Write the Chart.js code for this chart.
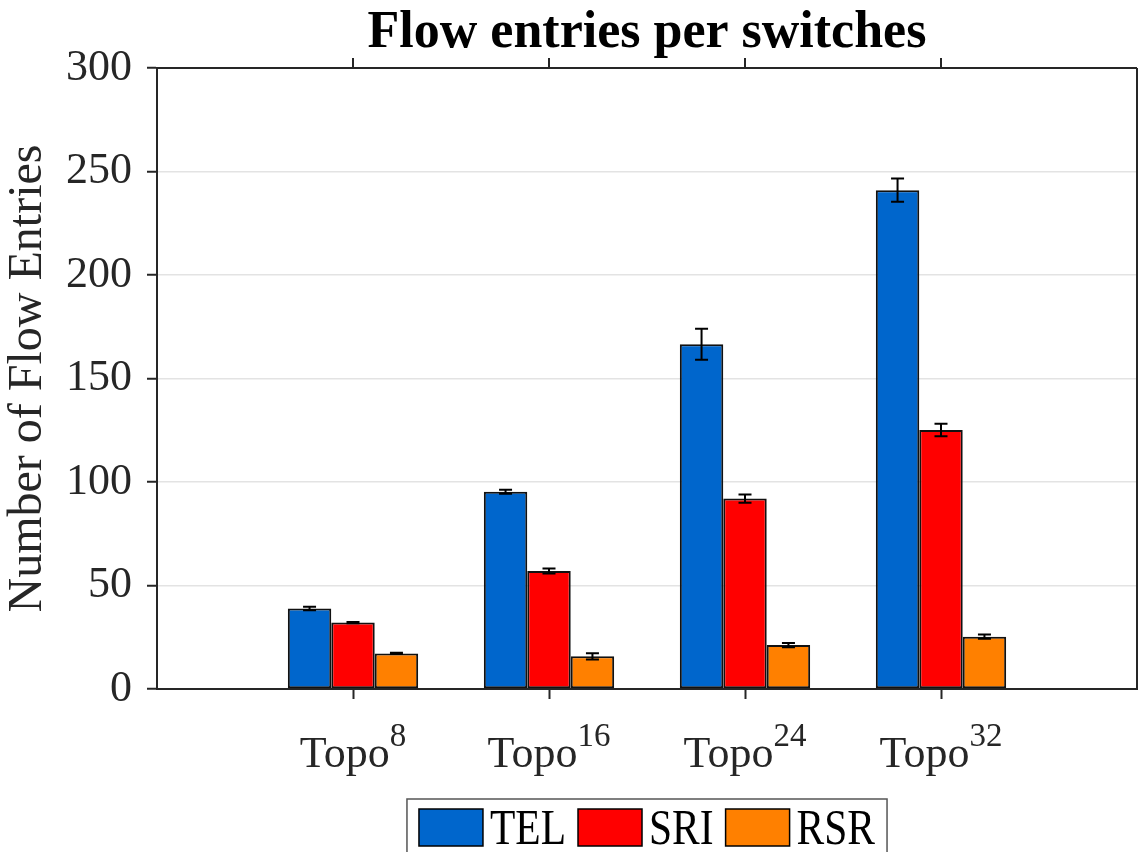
<!DOCTYPE html>
<html>
<head>
<meta charset="utf-8">
<title>Flow entries per switches</title>
<script src="https://cdn.jsdelivr.net/npm/chart.js@4.4.1/dist/chart.umd.min.js"></script>
<style>
    html, body { margin: 0; padding: 0; background: #fff; }
    #wrap { width: 1138px; height: 852px; }
</style>
</head>
<body>
<div id="wrap"><canvas id="flowChart" width="1138" height="852"></canvas></div>
<script>
// Chart data
const chartTitle = 'Flow entries per switches';
const topoSizes = ['8', '16', '24', '32'];
const topoPositions = [1, 2, 3, 4];
const seriesNames = ['TEL', 'SRI', 'RSR'];
const telValues = [38.9, 95.3, 166.5, 241.0];
const telErrors = [0.8, 1.0, 7.5, 5.6];
const sriValues = [32.1, 57.0, 92.0, 125.1];
const sriErrors = [0.3, 1.2, 2.0, 3.0];
const rsrValues = [17.2, 15.8, 21.2, 25.3];
const rsrErrors = [0.3, 1.5, 1.0, 1.0];
const yTicks = [0, 50, 100, 150, 200, 250, 300];

const FONT = "'Liberation Serif', 'Times New Roman', serif";
const AXIS_COLOR = '#262626';
const seriesColors = ['#0066CC', '#FF0000', '#FF8000'];

function toPoints(values) {
    return values.map((v, i) => ({ x: topoPositions[i], y: v }));
}

/**
 * Title centred over the plot area
 */
const plotTitlePlugin = {
    id: 'plotTitle',
    afterDraw(chart) {
        const { ctx, chartArea } = chart;
        ctx.save();
        ctx.font = 'bold 52px ' + FONT;
        ctx.fillStyle = '#000';
        ctx.textAlign = 'center';
        ctx.textBaseline = 'alphabetic';
        ctx.fillText(chartTitle, (chartArea.left + chartArea.right) / 2, chartArea.top - 21);
        ctx.restore();
    }
};

/**
 * Axis box: top border, right border and mirrored ticks on top
 */
const axisBoxPlugin = {
    id: 'axisBox',
    afterDraw(chart) {
        const { ctx, chartArea } = chart;
        const xScale = chart.scales.x;
        ctx.save();
        ctx.strokeStyle = AXIS_COLOR;
        ctx.lineWidth = 2;
        ctx.beginPath();
        ctx.moveTo(chartArea.left, chartArea.top);
        ctx.lineTo(chartArea.right, chartArea.top);
        ctx.moveTo(chartArea.right, chartArea.top);
        ctx.lineTo(chartArea.right, chartArea.bottom);
        topoPositions.forEach(p => {
            const px = Math.round(xScale.getPixelForValue(p));
            ctx.moveTo(px, chartArea.top);
            ctx.lineTo(px, chartArea.top - 10);
        });
        ctx.stroke();
        ctx.restore();
    }
};

/**
 * Error bars drawn over each bar
 */
const errorBarPlugin = {
    id: 'errorBars',
    afterDatasetsDraw(chart) {
        const { ctx } = chart;
        const yScale = chart.scales.y;
        ctx.save();
        ctx.strokeStyle = '#000';
        ctx.lineWidth = 2;
        chart.data.datasets.forEach((ds, di) => {
            const meta = chart.getDatasetMeta(di);
            meta.data.forEach((bar, i) => {
                const v = ds.data[i].y;
                const e = ds.errors[i];
                const yTop = yScale.getPixelForValue(v + e);
                const yBot = yScale.getPixelForValue(v - e);
                const cap = 6.5;
                ctx.beginPath();
                ctx.moveTo(bar.x, yTop);
                ctx.lineTo(bar.x, yBot);
                ctx.moveTo(bar.x - cap, yTop);
                ctx.lineTo(bar.x + cap, yTop);
                ctx.moveTo(bar.x - cap, yBot);
                ctx.lineTo(bar.x + cap, yBot);
                ctx.stroke();
            });
        });
        ctx.restore();
    }
};

/**
 * Category labels with superscript sizes
 */
const topoLabelPlugin = {
    id: 'topoLabels',
    afterDraw(chart) {
        const { ctx } = chart;
        const xScale = chart.scales.x;
        const baseY = xScale.top + 78;
        ctx.save();
        ctx.fillStyle = AXIS_COLOR;
        ctx.textBaseline = 'alphabetic';
        ctx.textAlign = 'left';
        topoSizes.forEach((sz, i) => {
            const cx = xScale.getPixelForValue(topoPositions[i]);
            ctx.font = '44px ' + FONT;
            const wMain = ctx.measureText('Topo').width;
            ctx.font = '33px ' + FONT;
            const wSup = ctx.measureText(sz).width;
            const x0 = cx - (wMain + wSup) / 2;
            ctx.font = '44px ' + FONT;
            ctx.fillText('Topo', x0, baseY);
            ctx.font = '33px ' + FONT;
            ctx.fillText(sz, x0 + wMain, baseY - 21);
        });
        ctx.restore();
    }
};

/**
 * Boxed legend under the x axis
 */
const boxLegendPlugin = {
    id: 'boxLegend',
    afterDraw(chart) {
        const { ctx } = chart;
        const xScale = chart.scales.x;
        const top = xScale.top + 110;
        const boxW = 64, boxH = 37, textGap = 7, itemGap = 12, margin = 12;
        const squeeze = 0.83;
        ctx.save();
        ctx.font = '50px ' + FONT;
        const widths = seriesNames.map(n => ctx.measureText(n).width * squeeze);
        const total = margin * 2 + widths.reduce((a, w) => a + boxW + textGap + w, 0) + itemGap * (seriesNames.length - 1);
        const left = (chart.chartArea.left + chart.chartArea.right) / 2 - total / 2;

        ctx.strokeStyle = '#555';
        ctx.lineWidth = 1.5;
        ctx.strokeRect(left, top, total, 80);

        let x = left + margin;
        seriesNames.forEach((name, i) => {
            ctx.fillStyle = seriesColors[i];
            ctx.fillRect(x, top + 10, boxW, boxH);
            ctx.strokeStyle = '#000';
            ctx.lineWidth = 1.5;
            ctx.strokeRect(x, top + 10, boxW, boxH);
            x += boxW + textGap;
            ctx.save();
            ctx.translate(x, top + 45);
            ctx.scale(squeeze, 1);
            ctx.fillStyle = '#000';
            ctx.textBaseline = 'alphabetic';
            ctx.fillText(name, 0, 0);
            ctx.restore();
            x += widths[i] + itemGap;
        });
        ctx.restore();
    }
};

const seriesValues = [telValues, sriValues, rsrValues];
const seriesErrors = [telErrors, sriErrors, rsrErrors];

new Chart(document.getElementById('flowChart').getContext('2d'), {
    type: 'bar',
    data: {
        datasets: seriesNames.map((name, i) => ({
            label: name,
            data: toPoints(seriesValues[i]),
            errors: seriesErrors[i],
            backgroundColor: seriesColors[i],
            borderColor: '#111',
            borderWidth: 2,
            borderSkipped: false,
            categoryPercentage: 0.665,
            barPercentage: 1.0
        }))
    },
    options: {
        responsive: false,
        animation: false,
        layout: { padding: { top: 68, right: 1, bottom: 0, left: 0 } },
        plugins: {
            legend: { display: false },
            tooltip: { enabled: false },
            title: { display: false }
        },
        scales: {
            x: {
                type: 'linear',
                min: 0,
                max: 5,
                offset: false,
                afterBuildTicks: scale => {
                    scale.ticks = topoPositions.map(v => ({ value: v }));
                },
                afterFit: scale => { scale.height = 163; },
                ticks: { callback: () => '' },
                grid: {
                    offset: false,
                    drawOnChartArea: false,
                    drawTicks: true,
                    tickLength: 10,
                    tickColor: AXIS_COLOR,
                    tickWidth: 2
                },
                border: { color: AXIS_COLOR, width: 2 }
            },
            y: {
                min: 0,
                max: 300,
                afterBuildTicks: scale => {
                    scale.ticks = yTicks.map(v => ({ value: v }));
                },
                afterFit: scale => { scale.width = 157; },
                ticks: {
                    color: AXIS_COLOR,
                    font: { family: FONT, size: 44 },
                    padding: 15
                },
                grid: {
                    color: '#e3e3e3',
                    lineWidth: 1.5,
                    drawTicks: true,
                    tickLength: 10,
                    tickColor: AXIS_COLOR,
                    tickWidth: 2
                },
                border: { color: AXIS_COLOR, width: 2 },
                title: {
                    display: true,
                    text: 'Number of Flow Entries',
                    color: AXIS_COLOR,
                    font: { family: FONT, size: 48 },
                    padding: { top: 0, bottom: 0 }
                }
            }
        }
    },
    plugins: [errorBarPlugin, axisBoxPlugin, topoLabelPlugin, boxLegendPlugin, plotTitlePlugin]
});
</script>
</body>
</html>
